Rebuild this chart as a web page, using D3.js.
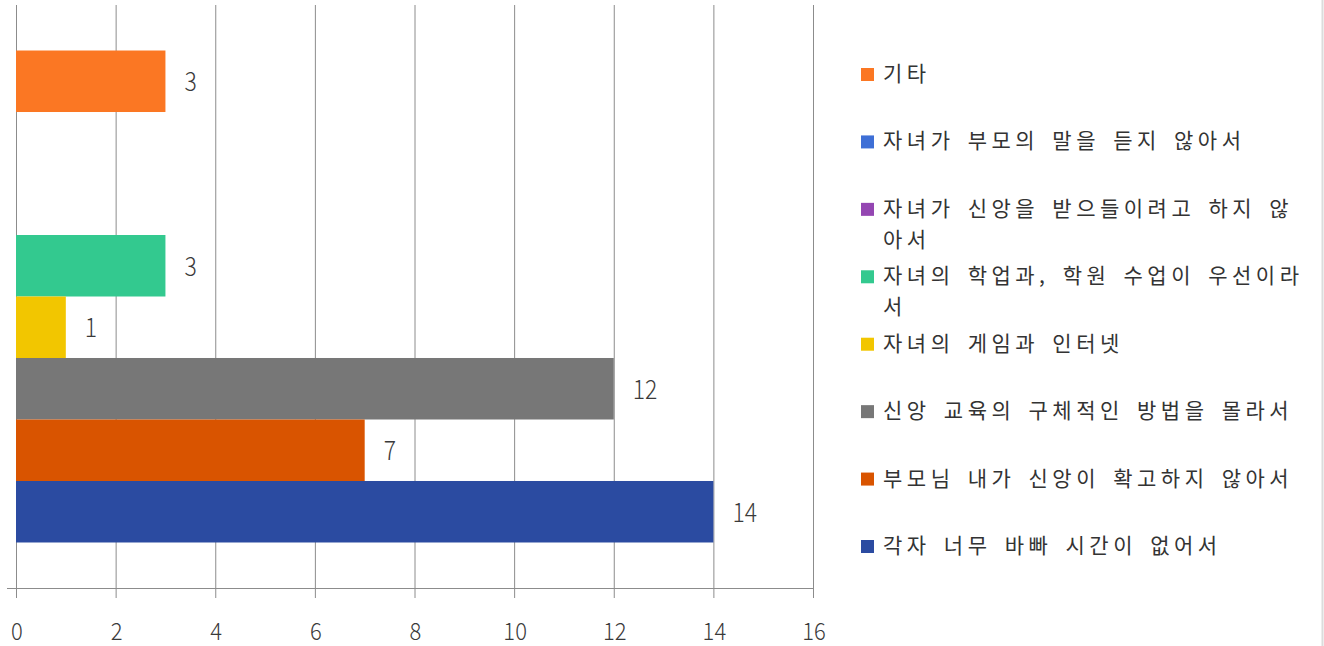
<!DOCTYPE html>
<html><head><meta charset="utf-8">
<script src="https://cdn.jsdelivr.net/npm/d3@7"></script>
<style>
html,body{margin:0;padding:0;background:#fff;}
svg{display:block;font-family:"Noto Sans CJK KR","Noto Sans",sans-serif;}
</style></head>
<body><svg id="c" width="1324" height="646"></svg>
<script>
const categories = ["기타","자녀가 부모의 말을 듣지 않아서","자녀가 신앙을 받으들이려고 하지 않아서","자녀의 학업과, 학원 수업이 우선이라서","자녀의 게임과 인터넷","신앙 교육의 구체적인 방법을 몰라서","부모님 내가 신앙이 확고하지 않아서","각자 너무 바빠 시간이 없어서"];
const values = [3,0,0,3,1,12,7,14];
const colors = ["#fb7723","#3e6fd6","#9446b2","#33c98f","#f2c600","#777777","#d95400","#2b4ba1"];
const xTicks = [0,2,4,6,8,10,12,14,16];

const svg = d3.select("#c");
const x = d3.scaleLinear().domain([0,16]).range([16,813]);
const y = d3.scaleBand().domain(categories).range([5,588]).paddingInner(0).paddingOuter(0.74);

// right border
svg.append("line").attr("x1",1322.5).attr("x2",1322.5).attr("y1",0).attr("y2",646).attr("stroke","#dcdcdc").attr("stroke-width",2);

// gridlines
svg.append("g").selectAll("line").data(xTicks).join("line")
  .attr("x1",d=>x(d)+0.5).attr("x2",d=>x(d)+0.5).attr("y1",5).attr("y2",598)
  .attr("stroke","#8c8c8c").attr("stroke-width",1);

// axis line
svg.append("line").attr("x1",7).attr("x2",x(16)+1).attr("y1",588.5).attr("y2",588.5).attr("stroke","#8c8c8c");

// tick labels
svg.append("g").selectAll("text").data(xTicks).join("text")
  .attr("transform",d=>`translate(${x(d)+1},640) scale(1,1.1)`).attr("text-anchor","middle")
  .attr("font-size",22).attr("font-weight",300).attr("fill","#3a3a3a").text(d=>d);

// bars
svg.append("g").selectAll("rect").data(categories).join("rect")
  .attr("x",x(0)).attr("y",d=>y(d)).attr("height",y.bandwidth())
  .attr("width",(d,i)=>x(values[i])-x(0)).attr("fill",(d,i)=>colors[i]);

// value labels
svg.append("g").selectAll("text").data(categories.filter((d,i)=>values[i]>0)).join("text")
  .attr("transform",d=>`translate(${x(values[categories.indexOf(d)])+19},${y(d)+y.bandwidth()/2+10}) scale(1,1.15)`)
  .attr("font-size",23).attr("font-weight",300).attr("fill","#3a3a3a").text(d=>values[categories.indexOf(d)]);

// legend
const ly = d3.scalePoint().domain(categories).range([73,545]);
const lg = svg.append("g");
const maxW = 432;
const fs = 21, ls = 4.5, ws = 4, lh = 31;
categories.forEach((c,i)=>{
  const g = lg.append("g").attr("transform",`translate(0,${ly(c)})`);
  g.append("rect").attr("x",861).attr("y",-5).attr("width",13).attr("height",13).attr("fill",colors[i]);
  let lines=[], cur="";
  const probe = g.append("text").attr("font-size",fs).attr("letter-spacing",ls).attr("word-spacing",ws).attr("visibility","hidden");
  for (const ch of c){
    probe.text(cur+ch);
    if (probe.node().getComputedTextLength()>maxW && cur.length){ lines.push(cur); cur=ch.trim()?ch:""; }
    else cur+=ch;
  }
  lines.push(cur); probe.remove();
  lines.forEach((l,k)=>g.append("text").attr("x",883).attr("y",8+k*lh)
    .attr("font-size",fs).attr("letter-spacing",ls).attr("word-spacing",ws).attr("fill","#333").text(l));
});
</script></body></html>
